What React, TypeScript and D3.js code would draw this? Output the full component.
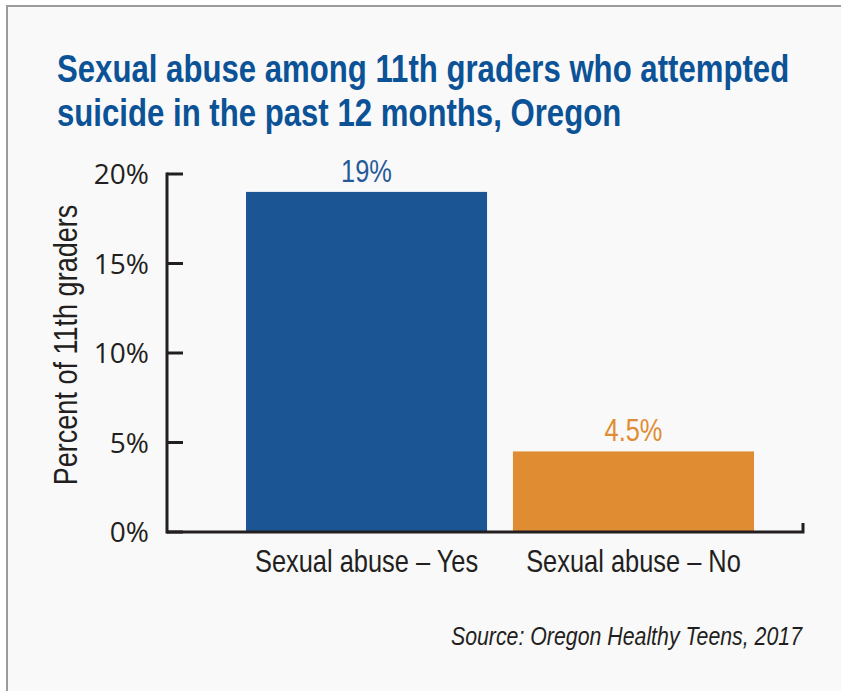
import React from 'react';
import * as d3 from 'd3';

// Data

const categories: string[] = ['Sexual abuse – Yes', 'Sexual abuse – No'];
const values: number[] = [19, 4.5];
const valueLabels: string[] = ['19%', '4.5%'];
const barColors: string[] = ['#1c5593', '#e08c33'];
const labelColors: string[] = ['#26599a', '#e08c33'];
const yTicks: number[] = [0, 5, 10, 15, 20];
const titleLines: string[] = [
    'Sexual abuse among 11th graders who attempted',
    'suicide in the past 12 months, Oregon',
];
const yLabel = 'Percent of 11th graders';
const source = 'Source: Oregon Healthy Teens, 2017';

const W = 841;
const H = 691;
const sans = '"Liberation Sans", Arial, sans-serif';
const ink = '#231f20';
const squeeze = 0.82; // no narrow face installed, so squash Liberation Sans

// text drawn with condensed proportions
function Narrow(props: { x: number; y: number; rotate?: number; children: React.ReactNode } & React.SVGProps<SVGTextElement>) {
    const { x, y, rotate = 0, children, ...rest } = props;
    return (
        <g transform={`translate(${x},${y}) rotate(${rotate}) scale(${squeeze},1)`}>
            <text x={0} y={0} fontFamily={sans} {...rest}>{children}</text>
        </g>
    );
}

function App() {
    const axisX = 167;
    const axisRight = 803;
    const y = d3.scaleLinear().domain([0, 20]).range([532, 174]);
    const x = d3.scaleBand<string>().domain(categories).range([246, 754]).paddingInner(0.097).paddingOuter(0);
    const mid = (c: string) => (x(c) as number) + x.bandwidth() / 2;

    return (
        <div style={{ position: 'absolute', left: 0, top: 0 }}>
            <svg width={W} height={H} style={{ display: 'block' }}>
                <rect x={0} y={0} width={W} height={H} fill="#ffffff" />
                <rect x={7} y={6} width={W + 20} height={H + 20} fill="#f9f9f9" stroke="#9b9b9b" strokeWidth={2} />

                {/* title */}
                {titleLines.map((t, i) => (
                    <Narrow key={i} x={57} y={82 + i * 44} fontWeight="bold" fontSize={38} fill="#0b5296">{t}</Narrow>
                ))}

                {/* bars */}
                {categories.map((c, i) => (
                    <rect key={c} x={x(c)} y={y(values[i])} width={x.bandwidth()} height={y(0) - y(values[i])} fill={barColors[i]} />
                ))}

                {/* value labels */}
                {categories.map((c, i) => (
                    <Narrow key={c} x={mid(c)} y={y(values[i]) - 10} fontSize={31} textAnchor="middle" fill={labelColors[i]}>{valueLabels[i]}</Narrow>
                ))}

                {/* y axis */}
                <g stroke={ink} strokeWidth={3} fill="none">
                    <line x1={axisX} x2={axisX} y1={y(20) - 1.5} y2={y(0) + 1.5} />
                    {yTicks.map((t) => (
                        <line key={t} x1={axisX} x2={axisX + 16} y1={y(t)} y2={y(t)} />
                    ))}
                    <path d={`M${axisX},${y(0)}H${axisRight}V${y(0) - 9}`} />
                </g>
                <g fontFamily='"Open Sans", sans-serif' fontSize={28} fill={ink} textAnchor="end">
                    {yTicks.map((t) => (
                        <text key={t} x={149} y={y(t)} dy="0.36em">{t}%</text>
                    ))}
                </g>
                <Narrow x={77} y={345} rotate={-90} textAnchor="middle" fontSize={33} fill={ink}>{yLabel}</Narrow>

                {/* category labels */}
                {categories.map((c) => (
                    <Narrow key={c} x={mid(c)} y={572} fontSize={31} textAnchor="middle" fill={ink}>{c}</Narrow>
                ))}

                {/* source */}
                <Narrow x={802} y={645} textAnchor="end" fontStyle="italic" fontSize={26} fill={ink}>{source}</Narrow>
            </svg>
        </div>
    );
}

export default App;
